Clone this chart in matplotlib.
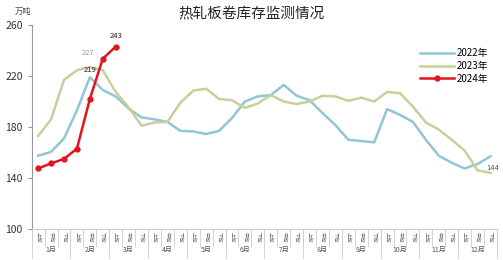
import numpy as np
import matplotlib.pyplot as plt

plt.rcParams['font.family'] = ['Noto Sans CJK SC', 'DejaVu Sans']

# 旬度 categories: 12 months x 上/中/下旬
months = ['%d月' % m for m in range(1, 13)]
xuns = ['上旬', '中旬', '下旬']
cats = [m + x for m in months for x in xuns]

v2022 = [157.5, 160.5, 171, 193, 219, 209, 204, 194.5, 187.5, 186, 184, 177,
         176.5, 174.5, 177, 187, 200, 204, 205, 213, 204.5, 201, 191, 181.5,
         170, 169, 168, 194, 189.5, 184, 170, 157.5, 152, 147.5, 151, 157]
v2023 = [173, 186, 217, 224.5, 227, 224.5, 207.5, 195.5, 181, 183.5, 184, 199,
         208.5, 210, 202, 201, 195, 198.5, 205, 200, 198, 200, 204.5, 204,
         200.5, 203, 200, 207.5, 206.5, 196, 183.5, 178, 170, 161.5, 146, 144]
v2024 = [147.5, 151.5, 155, 163, 202, 233.5, 243]

fig = plt.figure(figsize=(5.03, 2.6), dpi=100)
ax = fig.add_axes([0.063, 0.119, 0.925, 0.785])

x = np.arange(len(cats))
ax.plot(x, v2022, color='#93c5d6', lw=1.8, label='2022年')
ax.plot(x, v2023, color='#c9cf9c', lw=1.8, label='2023年')
ax.plot(np.arange(len(v2024)), v2024, color='#e3141b', lw=1.8, marker='o',
        ms=3.5, label='2024年')

# data labels
ax.annotate('%d' % round(v2022[4]), (4, v2022[4]), xytext=(0, 4),
            textcoords='offset points', ha='center', fontsize=5.5, color='#222222')
ax.annotate('%d' % round(v2023[4]), (4, v2023[4]), xytext=(-1, 9),
            textcoords='offset points', ha='center', fontsize=5.5, color='#999999',
            style='italic')
ax.annotate('%d' % round(v2024[-1]), (6, v2024[-1]), xytext=(0, 6),
            textcoords='offset points', ha='center', fontsize=5.5, color='#222222')
ax.annotate('%d' % round(v2023[-1]), (35, v2023[-1]), xytext=(2, 2),
            textcoords='offset points', ha='center', fontsize=5.5, color='#555555',
            style='italic')

ax.set_xlim(-0.5, len(cats) - 0.5)
ax.set_ylim(100, 260)
ax.set_yticks([100, 140, 180, 220, 260])
ax.tick_params(axis='y', labelsize=7.5, length=3, color='#999999', labelcolor='#333333')

ax.set_xticks(x)
ax.set_xticklabels([xuns[i % 3] for i in x], rotation=270, fontsize=3.8,
                   color='#666666')
ax.tick_params(axis='x', which='major', length=0, pad=2)
ax.set_xticks(np.arange(-0.5, len(cats), 1), minor=True)
ax.tick_params(axis='x', which='minor', length=13, color='#cccccc', width=0.6)

# month labels and longer separators
for i, m in enumerate(months):
    ax.text(3 * i + 1, -0.1, m, transform=ax.get_xaxis_transform(),
            ha='center', va='center', fontsize=5, color='#555555')
for b in range(0, 37, 3):
    ax.plot([b - 0.5, b - 0.5], [0, -0.14], transform=ax.get_xaxis_transform(),
            color='#cccccc', lw=0.6, clip_on=False)

for s in ['top', 'right']:
    ax.spines[s].set_visible(False)
ax.spines['left'].set_color('#999999')
ax.spines['bottom'].set_color('#cccccc')

leg = ax.legend(loc='upper right', bbox_to_anchor=(1.0, 0.93), frameon=False,
                fontsize=7, handlelength=3.5, labelspacing=0.3, handletextpad=0.3)

fig.text(0.5, 0.945, '热轧板卷库存监测情况', ha='center', va='center',
         fontsize=10.5, color='#222222')
fig.text(0.03, 0.955, '万吨', ha='left', va='center', fontsize=6, color='#444444',
         style='italic')

fig.savefig('out.png', dpi=100)
